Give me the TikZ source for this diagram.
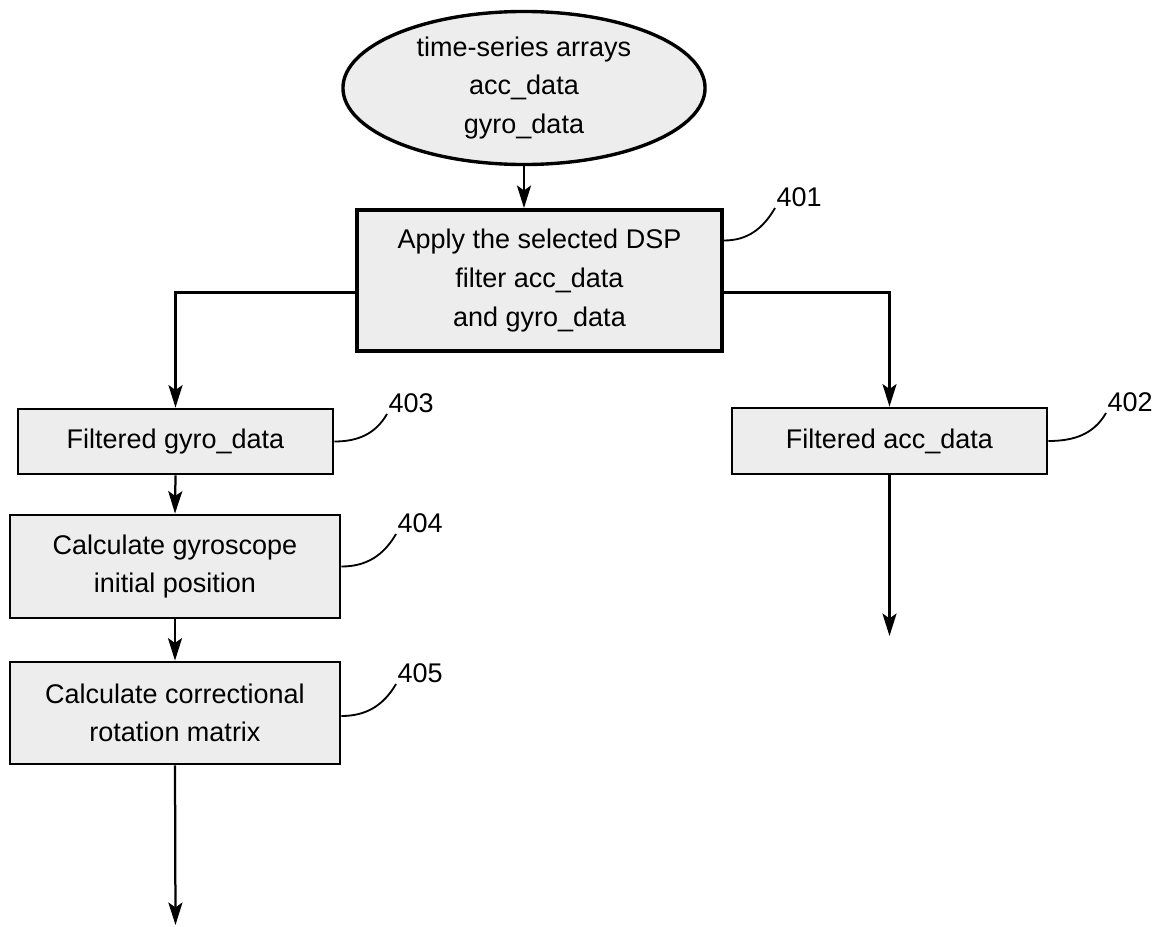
\documentclass[tikz,border=0pt]{standalone}
\usepackage{fontspec}
\setmainfont{Liberation Sans}
\usetikzlibrary{arrows.meta,shapes.geometric,calc}

\begin{document}
\begin{tikzpicture}[
    x=0.025cm, y=-0.025cm,
    font=\fontsize{19.2pt}{27.5pt}\selectfont,
    stepbox/.style={rectangle, draw=black, line width=2pt, fill=black!7,
        align=center, inner sep=0pt},
    srcoval/.style={ellipse, draw=black, line width=2.4pt, fill=black!7,
        align=center, inner sep=0pt, minimum width=9.05cm, minimum height=3.825cm},
    flow/.style={-{Stealth[length=16pt,width=10pt,inset=3.5pt]}, line width=1.6pt},
    leader/.style={line width=1.3pt},
    reflbl/.style={anchor=south west, inner sep=1pt}
  ]
  \useasboundingbox (0,0) rectangle (1160,927);
  % input data
  \node[srcoval] (src) at (524,88) {time-series arrays\\acc\_data\\gyro\_data};
  % filter step
  \node[stepbox, line width=2.8pt, minimum width=9.125cm, minimum height=3.525cm]
      (apply) at (539.5,280.5) {Apply the selected DSP\\filter acc\_data\\and gyro\_data};
  % gyroscope branch
  \node[stepbox, minimum width=7.875cm, minimum height=1.625cm]
      (gyro) at (175.5,441.5) {Filtered gyro\_data};
  \node[stepbox, minimum width=8.25cm, minimum height=2.575cm]
      (gyroinit) at (175,566.5) {Calculate gyroscope\\initial position};
  \node[stepbox, minimum width=8.25cm, minimum height=2.55cm]
      (rotmat) at (175,713) {Calculate correctional\\rotation matrix};
  % accelerometer branch
  \node[stepbox, minimum width=7.875cm, minimum height=1.65cm]
      (acc) at (889.5,441) {Filtered acc\_data};
  \coordinate (gyroend) at (175.5,925);
  \coordinate (accend) at (889.5,636);
  % reference numerals
  \node[reflbl] (lbl401) at (775,208) {401};
  \node[reflbl] (lbl402) at (1106,413) {402};
  \node[reflbl] (lbl403) at (387,414) {403};
  \node[reflbl] (lbl404) at (396,534) {404};
  \node[reflbl] (lbl405) at (396,684) {405};
  % connectors
  \draw[flow] (src.south) -- (src.south |- apply.north);
  \draw[flow] ($(apply.west)+(0,12)$) -| (gyro.north);
  \draw[flow] ($(apply.east)+(0,12)$) -| (acc.north);
  \draw[flow] (gyro.south) -- (gyroinit.north);
  \draw[flow] (gyroinit.south) -- (rotmat.north);
  \draw[flow] (rotmat.south) -- (gyroend);
  \draw[flow] (acc.south) -- (accend);
  % leaders
  \draw[leader] ($(apply.east)+(0,-40)$) to[out=0,in=240] (lbl401.south west);
  \draw[leader] (acc.east) to[out=0,in=240] (lbl402.south west);
  \draw[leader] (gyro.east) to[out=0,in=240] (lbl403.south west);
  \draw[leader] (gyroinit.east) to[out=0,in=240] (lbl404.south west);
  \draw[leader] ($(rotmat.east)+(0,3)$) to[out=0,in=240] (lbl405.south west);
\end{tikzpicture}
\end{document}
